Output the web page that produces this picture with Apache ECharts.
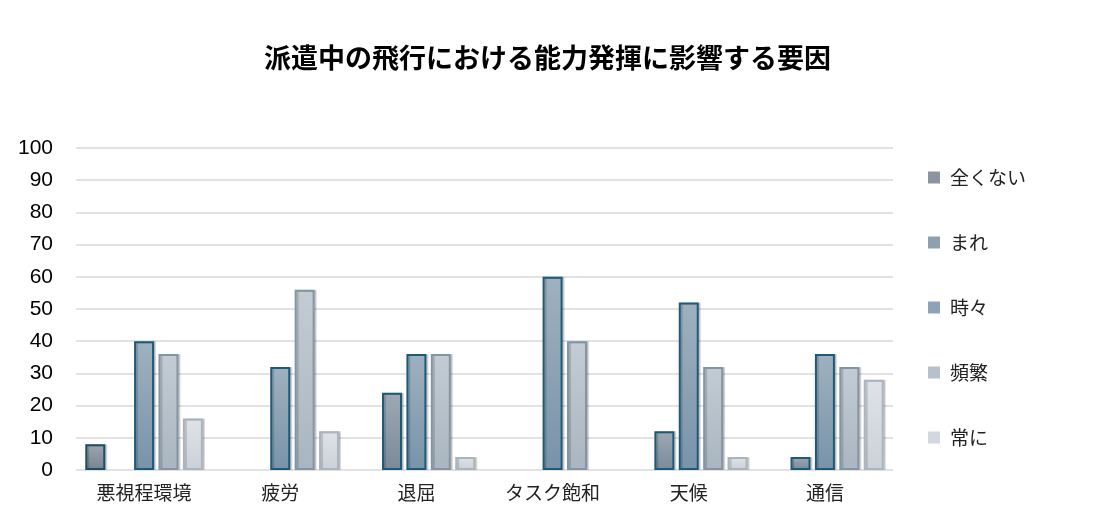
<!DOCTYPE html>
<html><head><meta charset="utf-8">
<script src="https://cdn.jsdelivr.net/npm/echarts@6/dist/echarts.min.js"></script>
<style>html,body{margin:0;padding:0;background:#fff}#c{width:1095px;height:514px}</style>
</head><body><div id="c"></div>
<script>
const title = '派遣中の飛行における能力発揮に影響する要因';
const categories = ['悪視程環境', '疲労', '退屈', 'タスク飽和', '天候', '通信'];
const seriesNames = ['全くない', 'まれ', '時々', '頻繁', '常に'];
const valNever = [8, null, null, null, null, null];
const valRarely = [null, null, 24, null, 12, 4];
const valSometimes = [40, 32, 36, 60, 52, 36];
const valFrequently = [36, 56, 36, 40, 32, 32];
const valAlways = [16, 12, 4, null, 4, 28];
const yTicks = [0, 10, 20, 30, 40, 50, 60, 70, 80, 90, 100];

const values = [valNever, valRarely, valSometimes, valFrequently, valAlways];
const styles = [
  {top:'#9da6af', bot:'#77838e', border:'#1b4d66', legend:'#8c959f'},
  {top:'#9ea9b4', bot:'#7a8a99', border:'#1b5a78', legend:'#8e9fae'},
  {top:'#9fb1bf', bot:'#7893aa', border:'#1b5a78', legend:'#8ea3b5'},
  {top:'#c3ccd4', bot:'#a9b5c0', border:'#8395a4', legend:'#b7c1cb'},
  {top:'#dfe3e8', bot:'#cbd1d8', border:'#aab4be', legend:'#d2d8df'}
];

const chart = echarts.init(document.getElementById('c'));
chart.setOption({
  animation: false,
  title: {
    text: title, left: 'center', top: 39,
    textStyle: {fontSize: 27, fontWeight: 'bold', color: '#000', fontFamily: 'Noto Sans CJK JP'}
  },
  legend: {
    orient: 'vertical', left: 923, top: 163, itemGap: 46,
    itemWidth: 12, itemHeight: 12, icon: 'rect',
    textStyle: {fontSize: 19, color: '#222', fontFamily: 'Noto Sans CJK JP', padding: [0, 0, 0, 5]},
    data: seriesNames.map((n, i) => ({name: n, itemStyle: {color: styles[i].legend, borderWidth: 0}}))
  },
  grid: {left: 76, right: 202, top: 148, bottom: 44},
  xAxis: {
    type: 'category', data: categories,
    axisLine: {show: false}, axisTick: {show: false},
    axisLabel: {fontSize: 19, color: '#222', margin: 13, fontFamily: 'Noto Sans CJK JP'}
  },
  yAxis: {
    type: 'value', min: 0, max: 100, interval: 10,
    axisLine: {show: false}, axisTick: {show: false},
    axisLabel: {fontSize: 21, color: '#000', margin: 23, fontFamily: 'Liberation Sans',
      formatter: v => yTicks.includes(v) ? String(v) : ''},
    splitLine: {lineStyle: {color: '#d9d9d9', width: 1.5}}
  },
  series: seriesNames.map((n, i) => ({
    name: n, type: 'bar', data: values[i], barWidth: 20, barGap: '22%',
    itemStyle: {
      color: new echarts.graphic.LinearGradient(0, 0, 0, 1, [
        {offset: 0, color: styles[i].top}, {offset: 1, color: styles[i].bot}]),
      borderColor: styles[i].border, borderWidth: 2,
      shadowColor: 'rgba(0,0,0,0.15)', shadowOffsetX: 2, shadowOffsetY: 0, shadowBlur: 0
    }
  }))
});
</script></body></html>
